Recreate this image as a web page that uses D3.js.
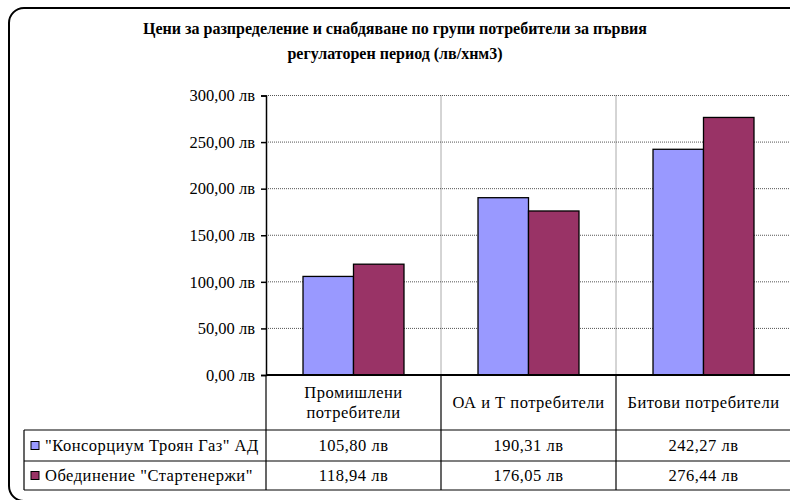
<!DOCTYPE html>
<html>
<head>
<meta charset="utf-8">
<script src="https://cdn.jsdelivr.net/npm/d3@7"></script>
<style>
  body { margin: 0; background: #fff; }
  svg { display: block; font-family: "Liberation Serif", "Times New Roman", serif; }
</style>
</head>
<body>
<div id="chart"></div>
<script>
// data
var categories = [["Промишлени", "потребители"], ["ОА и Т потребители"], ["Битови потребители"]];
var seriesNames = ['"Консорциум Троян Газ" АД', 'Обединение "Стартенержи"'];
var troyanGas = [105.80, 190.31, 242.27];
var startenergy = [118.94, 176.05, 276.44];
var yTicks = [0, 50, 100, 150, 200, 250, 300];
var titleLines = ["Цени за разпределение и снабдяване по групи потребители за първия",
                  "регулаторен период (лв/хнм3)"];

var colors = ["#9999ff", "#993366"];
var seriesValues = [troyanGas, startenergy];

var width = 790, height = 500;
var margin = {top: 95.5, left: 266, right: 791, bottom: 375};
var fontSize = "16.5px";
var tableSpacing = "0.5px";

var svg = d3.select("#chart").append("svg")
    .attr("width", width)
    .attr("height", height);

function fmt(v) {
  return d3.format(".2f")(v).replace(".", ",") + " лв";
}

// chart border (rounded, cut off on the right and bottom)
svg.append("rect")
    .attr("x", 9).attr("y", 8)
    .attr("width", 820).attr("height", 493)
    .attr("rx", 15).attr("ry", 15)
    .attr("fill", "none")
    .attr("stroke", "#000")
    .attr("stroke-width", 2);

// title
svg.append("text")
    .attr("text-anchor", "middle")
    .attr("font-weight", "bold")
    .attr("font-size", "16px")
    .selectAll("tspan")
    .data(titleLines)
    .enter().append("tspan")
      .attr("x", 395)
      .attr("y", function(d, i) { return 34 + i * 25; })
      .text(function(d) { return d; });

var catIdx = d3.range(categories.length);

var x = d3.scaleBand()
    .domain(catIdx)
    .range([margin.left, margin.right])
    .padding(0);

var x1 = d3.scaleBand()
    .domain(d3.range(seriesNames.length))
    .range([0, x.bandwidth()])
    .paddingInner(0)
    .paddingOuter(0.733);

var y = d3.scaleLinear()
    .domain([0, 300])
    .range([margin.bottom, margin.top]);

// horizontal gridlines
svg.append("g")
  .selectAll("line")
  .data(yTicks.filter(function(d) { return d > 0; }))
  .enter().append("line")
    .attr("x1", margin.left).attr("x2", margin.right)
    .attr("y1", function(d) { return y(d); })
    .attr("y2", function(d) { return y(d); })
    .attr("stroke", "#555")
    .attr("stroke-dasharray", "1,1");

// vertical gridlines between categories
svg.append("g")
  .selectAll("line")
  .data(catIdx.slice(1))
  .enter().append("line")
    .attr("x1", function(d) { return x(d); })
    .attr("x2", function(d) { return x(d); })
    .attr("y1", margin.top).attr("y2", margin.bottom)
    .attr("stroke", "#555")
    .attr("stroke-dasharray", "1,1");

// bars
seriesValues.forEach(function(vals, s) {
  svg.append("g")
    .selectAll("rect")
    .data(vals)
    .enter().append("rect")
      .attr("x", function(d, i) { return x(i) + x1(s); })
      .attr("y", function(d) { return y(d); })
      .attr("width", x1.bandwidth())
      .attr("height", function(d) { return y(0) - y(d); })
      .attr("fill", colors[s])
      .attr("stroke", "#000")
      .attr("stroke-width", 1.3);
});

// y axis
var yAxis = svg.append("g")
    .attr("transform", "translate(" + margin.left + ",0)")
    .call(d3.axisLeft(y).tickValues(yTicks).tickFormat(fmt).tickSize(5).tickPadding(6));
yAxis.attr("font-family", null).attr("font-size", null);
yAxis.select(".domain").attr("stroke-width", 1.5);
yAxis.selectAll(".tick line").attr("stroke-width", 1.5);
yAxis.selectAll("text")
    .attr("font-size", fontSize)
    .attr("fill", "#000");

// x axis line at zero
svg.append("line")
    .attr("x1", margin.left).attr("x2", margin.right)
    .attr("y1", y(0)).attr("y2", y(0))
    .attr("stroke", "#000")
    .attr("stroke-width", 2);

// data table under the plot
var tableLeft = 24;
var rowY = [y(0), 430, 461, 490];
var table = svg.append("g").attr("stroke", "#000").attr("stroke-width", 1.2);

rowY.slice(1).forEach(function(ry) {
  table.append("line")
      .attr("x1", tableLeft).attr("x2", margin.right)
      .attr("y1", ry).attr("y2", ry);
});
table.append("line")
    .attr("x1", tableLeft).attr("x2", tableLeft)
    .attr("y1", rowY[1]).attr("y2", rowY[3]);
catIdx.forEach(function(i) {
  table.append("line")
      .attr("x1", x(i)).attr("x2", x(i))
      .attr("y1", y(0)).attr("y2", rowY[3]);
});

// category labels
svg.append("g")
  .selectAll("text")
  .data(categories)
  .enter().append("text")
    .attr("text-anchor", "middle")
    .attr("font-size", fontSize)
    .attr("letter-spacing", tableSpacing)
    .each(function(lines, i) {
      var cy = (rowY[0] + rowY[1]) / 2;
      var lh = 20;
      d3.select(this).selectAll("tspan")
        .data(lines)
        .enter().append("tspan")
          .attr("x", x(i) + x.bandwidth() / 2)
          .attr("y", function(d, j) { return cy + (j - (lines.length - 1) / 2) * lh; })
          .attr("dy", "0.35em")
          .text(function(d) { return d; });
    });

// series rows: legend key + values
seriesValues.forEach(function(vals, s) {
  var cy = (rowY[s + 1] + rowY[s + 2]) / 2;
  svg.append("rect")
      .attr("x", 31).attr("y", cy - 4)
      .attr("width", 8).attr("height", 8)
      .attr("fill", colors[s])
      .attr("stroke", "#000")
      .attr("stroke-width", 1);
  svg.append("text")
      .attr("x", 45).attr("y", cy)
      .attr("dy", "0.35em")
      .attr("font-size", fontSize)
      .attr("letter-spacing", tableSpacing)
      .text(seriesNames[s]);
  svg.append("g")
    .selectAll("text")
    .data(vals)
    .enter().append("text")
      .attr("x", function(d, i) { return x(i) + x.bandwidth() / 2; })
      .attr("y", cy)
      .attr("dy", "0.35em")
      .attr("text-anchor", "middle")
      .attr("font-size", fontSize)
      .attr("letter-spacing", tableSpacing)
      .text(fmt);
});
</script>
</body>
</html>
